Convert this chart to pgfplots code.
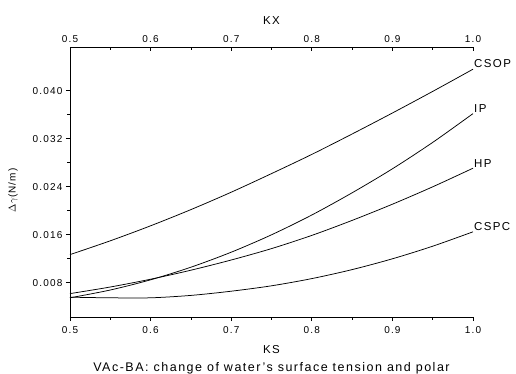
\documentclass[border=0pt]{standalone}
\usepackage{pgfplots}
\pgfplotsset{compat=1.18}
\usepackage{pgfplotstable}
\usepackage{fontspec}
\setmainfont[LetterSpace=12]{Liberation Sans}
\pgfplotstableread{
x     csop    ip      hp      cspc
0.50  0.0127  0.0055  0.0062  0.0056
0.55  0.0150  0.0068  0.0073  0.0055
0.60  0.0175  0.0085  0.0086  0.0055
0.65  0.0202  0.0106  0.0101  0.0059
0.70  0.0231  0.0131  0.0118  0.0066
0.75  0.0262  0.0160  0.0137  0.0075
0.80  0.0294  0.0193  0.0159  0.0087
0.85  0.0328  0.0230  0.0184  0.0102
0.90  0.0363  0.0270  0.0211  0.0120
0.95  0.0399  0.0314  0.0240  0.0141
1.00  0.0436  0.0362  0.0271  0.0165
}\datatable
\begin{document}
\begin{tikzpicture}
\useasboundingbox (-70pt,-56pt) rectangle (446pt,317pt);
\pgfplotsset{
  common/.style={
    scale only axis, width=403pt, height=270pt,
    xmin=0.5, xmax=1.0, ymin=0.0023, ymax=0.0473,
    axis line style={-, line width=0.9pt},
    tick style={black, line width=0.7pt},
    major tick length=4pt, minor tick length=2.5pt,
    /pgf/number format/assume math mode=true,
    ticklabel style={font=\fontsize{10}{11}\selectfont},
    xtick={0.5,0.6,...,1.01}, minor x tick num=1,
    xticklabel={\pgfmathprintnumber[fixed,fixed zerofill,precision=1]{\tick}},
  }
}
\begin{axis}[common,
  axis x line*=bottom, axis y line*=left,
  tick align=outside,
  ytick={0.008,0.016,0.024,0.032,0.040}, minor y tick num=1,
  scaled y ticks=false,
  yticklabel={\pgfmathprintnumber[fixed,fixed zerofill,precision=3]{\tick}},
  xticklabel style={yshift=-2pt},
  xlabel={KS},
  label style={font=\fontsize{11.5}{13}\selectfont},
  xlabel style={yshift=-5pt},
  clip=false,
]
\addplot[black, line width=0.75pt, smooth] table[x=x,y=csop]{\datatable};
\addplot[black, line width=0.75pt, smooth] table[x=x,y=ip]{\datatable};
\addplot[black, line width=0.75pt, smooth] table[x=x,y=hp]{\datatable};
\addplot[black, line width=0.75pt, smooth] table[x=x,y=cspc]{\datatable};
\node[anchor=south west, inner sep=1pt, font=\fontsize{11.5}{13}\selectfont] at (axis cs:1.0,0.0436) {CSOP};
\node[anchor=south west, inner sep=1pt, font=\fontsize{11.5}{13}\selectfont] at (axis cs:1.0,0.0362) {IP};
\node[anchor=south west, inner sep=1pt, font=\fontsize{11.5}{13}\selectfont] at (axis cs:1.0,0.0271) {HP};
\node[anchor=south west, inner sep=1pt, font=\fontsize{11.5}{13}\selectfont] at (axis cs:1.0,0.0165) {CSPC};
\node[rotate=90, font=\fontsize{10}{12}\selectfont] at ([xshift=-57pt]rel axis cs:0,0.47) {$\Delta\gamma$(N/m)};
\node[anchor=base, font=\fontsize{12.5}{14}\selectfont] at (rel axis cs:0.5,0) [yshift=-54pt] {VAc-BA: change of water's surface tension and polar};
\end{axis}
\begin{axis}[common,
  axis x line*=top, hide y axis,
  tick align=inside,
  xticklabel style={yshift=1pt},
  xlabel={KX},
  label style={font=\fontsize{11.5}{13}\selectfont},
  xlabel style={yshift=4pt},
]
\end{axis}
\end{tikzpicture}
\end{document}
